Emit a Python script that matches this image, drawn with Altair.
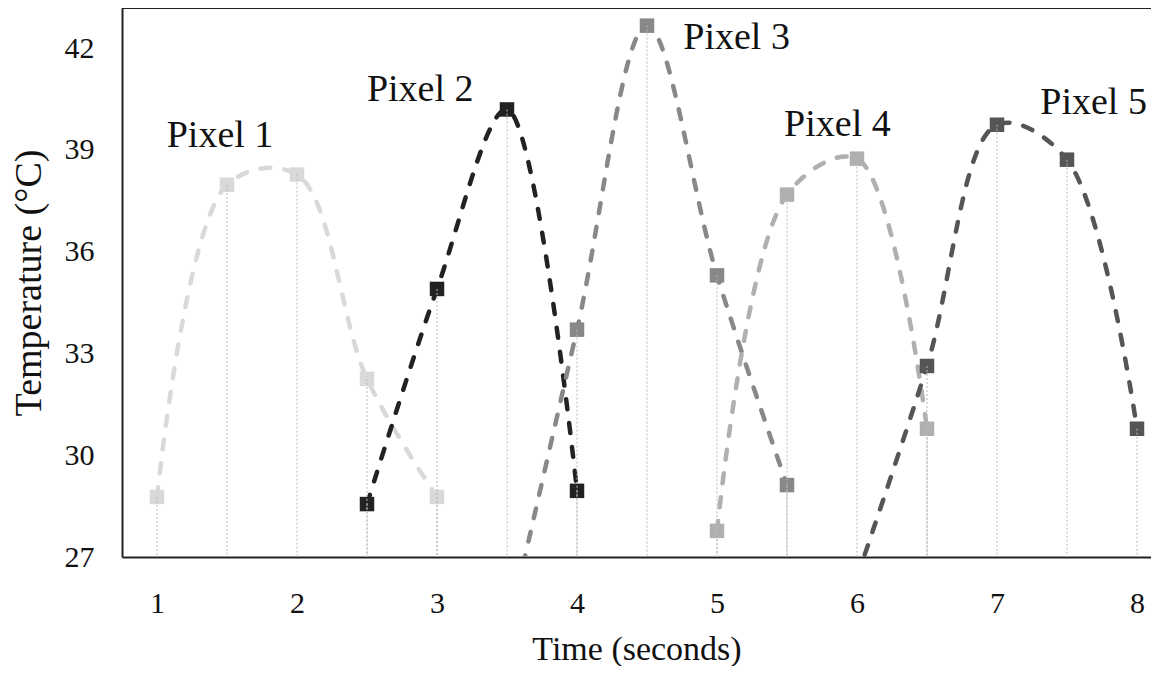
import altair as alt
import pandas as pd

pixels = ["Pixel 1", "Pixel 2", "Pixel 3", "Pixel 4", "Pixel 5"]
colors = ["#d9d9d9", "#222222", "#888888", "#b0b0b0", "#555555"]

p1_t = [1, 1.5, 2, 2.5, 3]
p1_v = [28.77, 37.97, 38.27, 32.25, 28.77]
p2_t = [2.5, 3, 3.5, 4]
p2_v = [28.56, 34.9, 40.19, 28.95]
p3_t = [3.5, 4, 4.5, 5, 5.5]
p3_v = [24.7, 33.7, 42.66, 35.3, 29.12]
p4_t = [5, 5.5, 6, 6.5]
p4_v = [27.77, 37.68, 38.74, 30.78]
p5_t = [6, 6.5, 7, 7.5, 8]
p5_v = [26.4, 32.63, 39.74, 38.71, 30.78]

label_t = [1.45, 2.88, 5.14, 5.86, 7.69]
label_v = [39.41, 40.76, 42.3, 39.73, 40.38]

x_ticks = [1, 2, 3, 4, 5, 6, 7, 8]
y_ticks = [27, 30, 33, 36, 39, 42]

rows = []
for name, ts, vs in zip(pixels, [p1_t, p2_t, p3_t, p4_t, p5_t], [p1_v, p2_v, p3_v, p4_v, p5_v]):
    for t, v in zip(ts, vs):
        rows.append({"pixel": name, "time": t, "temp": v, "base": 27})
df = pd.DataFrame(rows)
labels = pd.DataFrame({"pixel": pixels, "time": label_t, "temp": label_v})

W, H = 1029, 549
FONT = "Liberation Serif"

xs = alt.Scale(domain=[0.75, 8.1], nice=False, zero=False)
ys = alt.Scale(domain=[27, 43.18], nice=False, zero=False)
cs = alt.Scale(domain=pixels, range=colors)

xax = alt.Axis(values=x_ticks, title="Time (seconds)", grid=False, ticks=False,
               labelPadding=31, titlePadding=14, format="d", titleFontSize=34)
yax = alt.Axis(values=y_ticks, title="Temperature (°C)", grid=False, ticks=False,
               labelPadding=28, titlePadding=16, format="d", titleFontSize=38)

base = alt.Chart(df)

rules = base.mark_rule(color="#b8b8b8", strokeWidth=1, strokeDash=[2, 2], clip=True).encode(
    x=alt.X("time:Q", scale=xs, axis=xax),
    y=alt.Y("temp:Q", scale=ys, axis=yax),
    y2="base:Q",
)

lines = base.mark_line(interpolate="catmull-rom", strokeWidth=4.5, strokeDash=[10, 14],
                       strokeCap="round", clip=True).encode(
    x=alt.X("time:Q", scale=xs),
    y=alt.Y("temp:Q", scale=ys),
    color=alt.Color("pixel:N", scale=cs, legend=None),
    detail="pixel:N",
)

points = base.mark_point(shape="square", filled=True, size=210, opacity=1, clip=True).encode(
    x=alt.X("time:Q", scale=xs),
    y=alt.Y("temp:Q", scale=ys),
    color=alt.Color("pixel:N", scale=cs, legend=None),
)

texts = alt.Chart(labels).mark_text(font=FONT, fontSize=38, color="#111111",
                                    align="center", baseline="middle").encode(
    x=alt.X("time:Q", scale=xs),
    y=alt.Y("temp:Q", scale=ys),
    text="pixel:N",
)

top = alt.Chart(labels).mark_rule(color="#222222", strokeWidth=2).encode(
    x=alt.value(0), x2=alt.value(W), y=alt.value(0)
)

chart = alt.layer(lines, points, rules, texts, top).properties(
    width=W, height=H,
    autosize=alt.AutoSizeParams(type="none"),
    padding={"left": 114, "top": 0, "right": 0, "bottom": 109},
).configure_view(stroke=None).configure_axis(
    domainColor="#222222", domainWidth=2,
    labelFont=FONT, titleFont=FONT, labelFontSize=30,
    labelColor="#111111", titleColor="#111111", titleFontWeight="normal",
)

chart.save("out.html", embed_options={"renderer": "svg", "actions": False})
